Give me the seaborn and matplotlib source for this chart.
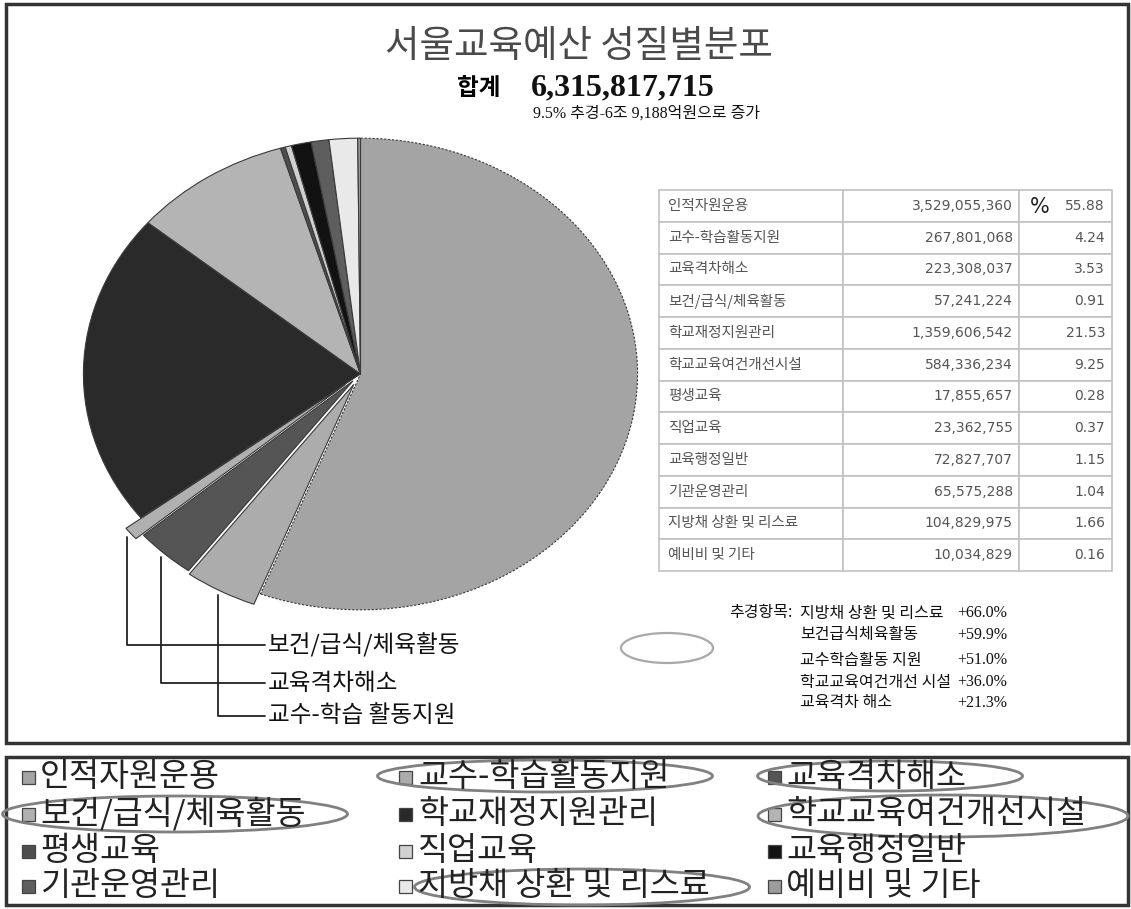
import matplotlib
matplotlib.use("Agg")
import numpy as np
import matplotlib.pyplot as plt
from matplotlib.patches import Rectangle, Ellipse
import seaborn as sns

# ---- data -------------------------------------------------------------
categories = ["인적자원운용", "교수-학습활동지원", "교육격차해소", "보건/급식/체육활동",
              "학교재정지원관리", "학교교육여건개선시설", "평생교육", "직업교육",
              "교육행정일반", "기관운영관리", "지방채 상환 및 리스료", "예비비 및 기타"]
amounts = [3529055360, 267801068, 223308037, 57241224, 1359606542, 584336234,
           17855657, 23362755, 72827707, 65575288, 104829975, 10034829]
shares = ["55.88", "4.24", "3.53", "0.91", "21.53", "9.25",
          "0.28", "0.37", "1.15", "1.04", "1.66", "0.16"]
total_amount = 6315817715

supp_items = ["지방채 상환 및 리스료", "보건급식체육활동", "교수학습활동 지원",
              "학교교육여건개선 시설", "교육격차 해소"]
supp_growth = [66.0, 59.9, 51.0, 36.0, 21.3]

callout_labels = ["보건/급식/체육활동", "교육격차해소", "교수-학습 활동지원"]
callout_index = [3, 2, 1]

# ---- style ------------------------------------------------------------
slice_colors = ["#a4a4a4", "#acacac", "#555555", "#b0b0b0", "#2a2a2a", "#b4b4b4",
                "#4d4d4d", "#d0d0d0", "#121212", "#5e5e5e", "#e9e9e9", "#9c9c9c"]
explode = [0, 0.05, 0.04, 0.07, 0, 0, 0, 0, 0, 0, 0, 0]

sns.set_theme(style="white")
plt.rcParams["font.family"] = ["Noto Sans CJK KR", "DejaVu Sans"]
SERIF_KR = ["Liberation Serif", "Noto Sans CJK KR"]

W, H = 1131, 909
fig = plt.figure(figsize=(W / 100, H / 100), dpi=100)
fig.patch.set_facecolor("white")

# full-figure canvas in pixel units (y downward) for frames and text
bg = fig.add_axes([0, 0, 1, 1])
bg.set_xlim(0, W)
bg.set_ylim(H, 0)
bg.axis("off")

# frames around the chart and the legend
bg.add_patch(Rectangle((6, 4), 1122, 739, fill=False, edgecolor="#333333", lw=2.5))
bg.add_patch(Rectangle((6, 757), 1122, 148, fill=False, edgecolor="#333333", lw=2.5))

# ---- pie (elliptical) -------------------------------------------------
pie_ax = fig.add_axes([28 / W, 1 - 657 / H, 665 / W, 566 / H])
pie_ax.patch.set_alpha(0)
wedges, _ = pie_ax.pie(amounts, colors=sns.color_palette(slice_colors),
                       startangle=90, counterclock=False, explode=explode,
                       wedgeprops=dict(edgecolor="#3a3a3a", linewidth=0.8))
pie_ax.set_aspect("auto")
pie_ax.set_xlim(-1.2, 1.2)
pie_ax.set_ylim(-1.2, 1.2)
wedges[0].set_linestyle((0, (2, 1.5)))
for w in wedges:
    w.set_clip_on(False)

# callouts with right-angle leader lines
callout_y = [645, 683, 716]
for label, idx, ty in zip(callout_labels, callout_index, callout_y):
    w = wedges[idx]
    mid = np.deg2rad((w.theta1 + w.theta2) / 2)
    r = w.r + 0.02
    px = w.center[0] + r * np.cos(mid)
    py = w.center[1] + r * np.sin(mid)
    pie_ax.annotate(label, xy=(px, py), xytext=(268, ty), textcoords=bg.transData,
                    ha="left", va="center", fontsize=17, color="#111111",
                    annotation_clip=False,
                    arrowprops=dict(arrowstyle="-", color="#222222", lw=1.3,
                                    shrinkA=0, shrinkB=0, relpos=(0, 0.5),
                                    connectionstyle="angle,angleA=0,angleB=90,rad=0"))

# ---- titles -----------------------------------------------------------
bg.text(579, 47, "서울교육예산 성질별분포", fontsize=27, color="#4a4a4a",
        ha="center", va="center")
bg.text(479, 88, "합계", fontsize=17, fontweight="heavy", color="#000000",
        ha="center", va="center")
bg.text(531, 88, f"{total_amount:,}", fontsize=23, fontweight="bold",
        family="Liberation Serif", color="#111111", ha="left", va="center")
bg.text(533, 114, "9.5% 추경-6조 9,188억원으로 증가", fontsize=11.5,
        family=SERIF_KR, color="#111111", ha="left", va="center")

# ---- value table ------------------------------------------------------
cell_text = [[c, f"{a:,}", s] for c, a, s in zip(categories, amounts, shares)]
tx0, ty0, tx1, ty1 = 659, 190, 1112, 571
tbl = bg.table(cellText=cell_text, colWidths=[184, 176, 93], cellLoc="right",
               bbox=[tx0 / W, 1 - ty1 / H, (tx1 - tx0) / W, (ty1 - ty0) / H])
tbl.auto_set_font_size(False)
tbl.set_fontsize(10)
for (row, col), cell in tbl.get_celld().items():
    cell.set_edgecolor("#c2c2c2")
    cell.set_linewidth(1.2)
    txt = cell.get_text()
    txt.set_color("#555555")
    if col == 0:
        cell._loc = "left"
        txt.set_horizontalalignment("left")
        cell.PAD = 0.05
        txt.set_fontsize(10.5)
    else:
        txt.set_family("DejaVu Sans")
        cell.PAD = 0.035 if col == 1 else 0.075
bg.text(1030, 207, "%", fontsize=15, color="#222222", ha="left", va="center",
        family="DejaVu Sans")

# ---- supplementary budget notes ---------------------------------------
note_y = [613, 635, 660, 682, 703]
bg.text(729, note_y[0], "추경항목:", fontsize=11.5, color="#111111",
        ha="left", va="center")
for name, g, y in zip(supp_items, supp_growth, note_y):
    bg.text(800, y, name, fontsize=11.5, color="#111111", ha="left", va="center")
    bg.text(1007, y, f"+{g:.1f}%", fontsize=11.5, family=SERIF_KR,
            color="#111111", ha="right", va="center")
bg.add_patch(Ellipse((667, 648), 92, 30, fill=False, edgecolor="#a8a8a8", lw=1.6))

# ---- legend (row-major, three columns) --------------------------------
sq_x = [22, 399, 768]
lab_x = [40, 418, 786]
row_y = [777, 814, 851, 886]
for i, (name, col) in enumerate(zip(categories, slice_colors)):
    r, c = divmod(i, 3)
    bg.add_patch(Rectangle((sq_x[c], row_y[r] - 6.5), 13, 13, facecolor=col,
                           edgecolor="#444444", lw=0.9))
    bg.text(lab_x[c], row_y[r], name, fontsize=23.5, color="#222222",
            ha="left", va="center")

# highlighted legend entries
for (cx, cy, ew, eh) in [(545, 776, 335, 32), (890, 776, 265, 30),
                         (175, 814, 345, 36), (943, 816, 370, 42),
                         (582, 887, 335, 36)]:
    bg.add_patch(Ellipse((cx, cy), ew, eh, fill=False, edgecolor="#808080", lw=2))

fig.savefig("out.png", dpi=100, facecolor="white")
